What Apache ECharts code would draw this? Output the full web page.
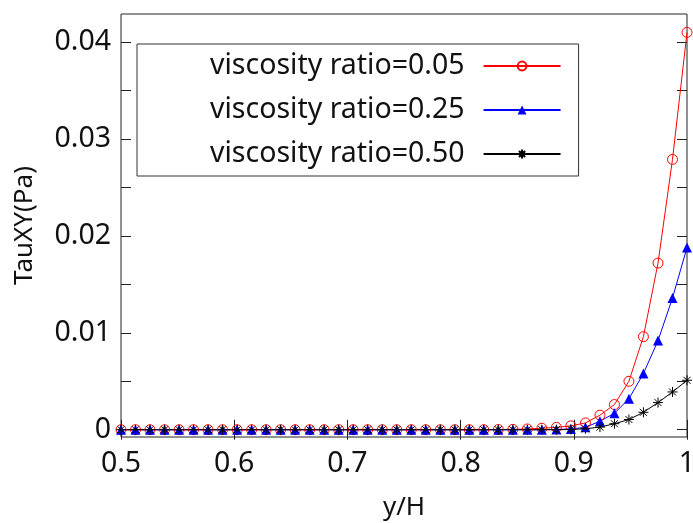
<!DOCTYPE html>
<html>
<head>
<meta charset="utf-8">
<script src="https://cdn.jsdelivr.net/npm/echarts@6/dist/echarts.min.js"></script>
<style>
  html, body { margin: 0; padding: 0; background: #fff; }
  #chart { width: 693px; height: 523px; }
</style>
</head>
<body>
<div id="chart"></div>
<script>
// y/H positions of the samples
const yH = [0.5, 0.5128, 0.5256, 0.5385, 0.5513, 0.5641, 0.5769, 0.5897, 0.6026, 0.6154,
  0.6282, 0.641, 0.6538, 0.6667, 0.6795, 0.6923, 0.7051, 0.7179, 0.7308, 0.7436,
  0.7564, 0.7692, 0.7821, 0.7949, 0.8077, 0.8205, 0.8333, 0.8462, 0.859, 0.8718,
  0.8846, 0.8974, 0.9103, 0.9231, 0.9359, 0.9487, 0.9615, 0.9744, 0.9872, 1.0]

// TauXY (Pa) for each viscosity ratio
const tau005 = [0, 0, 0, 0, 0, 0, 0, 0, 0, 0,
  0, 0, 0, 0, 0, 0, 0, 0, 0, 0,
  0, 0, 0, 0, 0, 0, 0.00002, 0.00004, 0.00008, 0.00015,
  0.00024, 0.0004, 0.0007, 0.0015, 0.0026, 0.005, 0.0096, 0.0172, 0.0279, 0.041]
const tau025 = [0, 0, 0, 0, 0, 0, 0, 0, 0, 0,
  0, 0, 0, 0, 0, 0, 0, 0, 0, 0,
  0, 0, 0, 0, 0, 0, 0, 0, 0, 0,
  0.00003, 0.00008, 0.00025, 0.00088, 0.0017, 0.0032, 0.0058, 0.0092, 0.0136, 0.0188]
const tau050 = [0, 0, 0, 0, 0, 0, 0, 0, 0, 0,
  0, 0, 0, 0, 0, 0, 0, 0, 0, 0,
  0, 0, 0, 0, 0, 0, 0, 0, 0, 0,
  0, 0.00003, 0.0001, 0.00027, 0.00062, 0.00105, 0.0018, 0.0028, 0.0039, 0.0051]

const seriesNames = ['viscosity ratio=0.05', 'viscosity ratio=0.25', 'viscosity ratio=0.50']

const xTicks = [0.5, 0.6, 0.7, 0.8, 0.9, 1]
const yTicks = [0, 0.005, 0.01, 0.015, 0.02, 0.025, 0.03, 0.035, 0.04]
const yLabels = [0, 0.01, 0.02, 0.03, 0.04]

const font = 'Noto Sans'
const pairs = (ys) => yH.map((x, i) => [x, ys[i]])

const chart = echarts.init(document.getElementById('chart'))

const tickStyle = {
  show: true,
  inside: true,
  length: 10,
  lineStyle: { color: '#222', width: 1 }
}

const option = {
  animation: false,
  textStyle: { fontFamily: font },
  grid: {
    left: 121,
    right: 6,
    top: 14,
    bottom: 86,
    outerBoundsMode: 'none',
    show: true,
    borderColor: '#222',
    borderWidth: 1
  },
  legend: {
    orient: 'vertical',
    left: 137,
    top: 44,
    align: 'right',
    padding: [7, 17, 7, 73],
    borderColor: '#333',
    borderWidth: 1,
    itemWidth: 77,
    itemHeight: 11,
    itemGap: 14,
    textStyle: {
      fontFamily: font,
      fontSize: 28.5,
      color: '#111',
      lineHeight: 30,
      padding: [0, 14, 0, 0]
    },
    data: seriesNames
  },
  xAxis: [
    {
      type: 'value',
      min: 0.5,
      max: 1,
      name: 'y/H',
      nameLocation: 'middle',
      nameGap: 58,
      nameTextStyle: { fontFamily: font, fontSize: 26, color: '#111' },
      axisLine: { show: false },
      axisTick: Object.assign({ customValues: xTicks }, tickStyle),
      axisLabel: {
        customValues: xTicks,
        margin: 12,
        fontFamily: font,
        fontSize: 28.5,
        color: '#111'
      },
      splitLine: { show: false }
    },
    {
      type: 'value',
      position: 'top',
      min: 0.5,
      max: 1,
      axisLine: { show: false },
      axisTick: Object.assign({ customValues: xTicks }, tickStyle),
      axisLabel: { show: false },
      splitLine: { show: false }
    }
  ],
  yAxis: [
    {
      type: 'value',
      min: -0.00075,
      max: 0.0429,
      name: 'TauXY(Pa)',
      nameLocation: 'middle',
      nameGap: 83,
      nameTextStyle: { fontFamily: font, fontSize: 26, color: '#111' },
      axisLine: { show: false },
      axisTick: Object.assign({ customValues: yTicks }, tickStyle),
      axisLabel: {
        customValues: yLabels,
        margin: 10,
        fontFamily: font,
        fontSize: 28.5,
        color: '#111',
        formatter: (v) => (v === 0 ? '0' : v.toFixed(2))
      },
      splitLine: { show: false }
    },
    {
      type: 'value',
      position: 'right',
      min: -0.00075,
      max: 0.0429,
      axisLine: { show: false },
      axisTick: Object.assign({ customValues: yTicks }, tickStyle),
      axisLabel: { show: false },
      splitLine: { show: false }
    }
  ],
  series: [
    {
      name: seriesNames[0],
      type: 'line',
      data: pairs(tau005),
      symbol: 'circle',
      symbolSize: 10,
      showAllSymbol: true,
      lineStyle: { color: '#ff0000', width: 1 },
      itemStyle: { color: 'rgba(255,255,255,0)', borderColor: '#ff0000', borderWidth: 1 }
    },
    {
      name: seriesNames[1],
      type: 'line',
      data: pairs(tau025),
      symbol: 'triangle',
      symbolSize: 10,
      showAllSymbol: true,
      lineStyle: { color: '#0000ff', width: 1 },
      itemStyle: { color: '#0000ff' }
    },
    {
      name: seriesNames[2],
      type: 'line',
      data: pairs(tau050),
      symbol: 'path://M0,5L10,5M5,0L5,10M1.5,1.5L8.5,8.5M1.5,8.5L8.5,1.5',
      symbolSize: 10,
      showAllSymbol: true,
      lineStyle: { color: '#000000', width: 1 },
      itemStyle: { color: 'none', borderColor: '#000000', borderWidth: 1 }
    }
  ]
}

chart.setOption(option)
</script>
</body>
</html>
